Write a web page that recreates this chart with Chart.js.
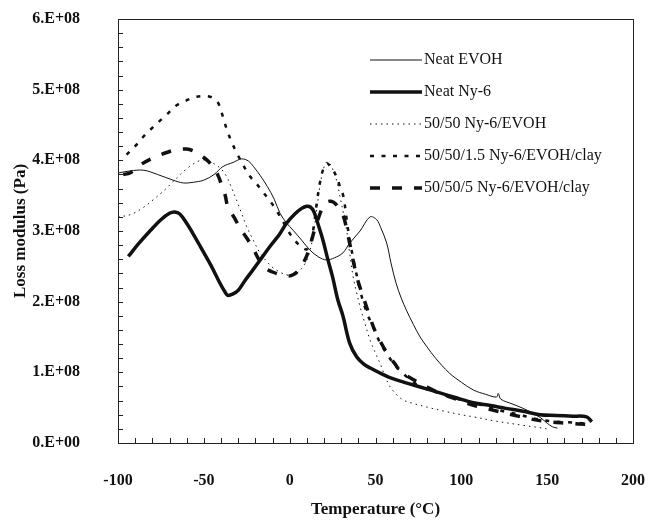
<!DOCTYPE html>
<html lang="en">
<head>
    <meta charset="UTF-8">
    <title>Loss modulus vs temperature</title>
    <style>
        html, body {
            margin: 0;
            padding: 0;
            background: #ffffff;
        }

        .chart-box {
            width: 650px;
            height: 521px;
            position: relative;
        }
    </style>
    <script src="https://cdn.jsdelivr.net/npm/chart.js@4/dist/chart.umd.min.js"></script>
</head>
<body>
    <div class="chart-box">
        <canvas id="lossChart"></canvas>
    </div>

    <script>
        // axis ticks
        const xTickValues = [-100, -50, 0, 50, 100, 150, 200];
        const yTickValues = [0, 1, 2, 3, 4, 5, 6];
        const yTickLabels = ['0.E+00', '1.E+08', '2.E+08', '3.E+08', '4.E+08', '5.E+08', '6.E+08'];
        const xMinorStep = 10;
        const yMinorStep = 0.2;

        // Neat EVOH (loss modulus in 1e8 Pa)
        const evohT = [-100, -93, -85, -77, -68, -62, -56, -50, -44, -39, -33, -28, -24, -21, -17, -13, -9, -5.6, -2, 2, 7, 11.8, 17, 21.5, 26, 31, 35, 41, 46.8, 50.7, 53, 56.5, 59, 62, 65, 68, 72, 76, 80, 85, 93, 100, 107, 114, 120.5, 121.5, 123, 130, 136, 141, 146, 150, 153, 156];
        const evohV = [3.82, 3.85, 3.86, 3.80, 3.72, 3.68, 3.69, 3.72, 3.80, 3.91, 3.97, 4.02, 3.99, 3.91, 3.78, 3.63, 3.45, 3.25, 3.12, 3.01, 2.87, 2.73, 2.63, 2.59, 2.62, 2.69, 2.83, 3.00, 3.20, 3.16, 3.05, 2.83, 2.55, 2.26, 2.05, 1.88, 1.68, 1.50, 1.36, 1.20, 0.99, 0.86, 0.75, 0.69, 0.65, 0.70, 0.62, 0.55, 0.49, 0.43, 0.36, 0.28, 0.23, 0.21];

        // Neat Ny-6
        const ny6T = [-94, -88, -81, -75, -70, -67, -64, -60, -56, -52, -46, -40.6, -38, -36, -33, -30, -26, -21.4, -16, -11.5, -6, -1.8, 3, 7, 10, 12, 14, 16.5, 19.4, 22, 25, 28, 31, 35, 39, 43, 47, 52.6, 58, 64, 75, 87.5, 97, 107, 117, 126, 136, 145.8, 155, 165, 173, 176];
        const ny6V = [2.64, 2.82, 3.01, 3.16, 3.25, 3.27, 3.24, 3.11, 2.95, 2.78, 2.52, 2.26, 2.15, 2.09, 2.11, 2.16, 2.30, 2.45, 2.63, 2.78, 2.95, 3.11, 3.24, 3.32, 3.35, 3.34, 3.28, 3.10, 2.87, 2.62, 2.35, 2.03, 1.80, 1.41, 1.22, 1.12, 1.06, 0.99, 0.93, 0.88, 0.80, 0.71, 0.64, 0.57, 0.53, 0.49, 0.45, 0.40, 0.39, 0.38, 0.37, 0.30];

        // 50/50 Ny-6/EVOH
        const blendT = [-100, -93, -86, -79.6, -72, -65.8, -59, -52, -48, -44.6, -40, -36.7, -34, -31, -28, -25, -21, -17.3, -13, -9.7, -5, -1.8, 1, 4, 7, 10, 12, 13.6, 15.5, 17.6, 19.5, 21.6, 23.5, 25.3, 27.5, 29.3, 31.3, 33.2, 35, 37, 39, 41, 44, 46.8, 50, 52.6, 55.5, 58.4, 62, 66, 72, 79.7, 90, 100, 107, 120, 136, 145, 149.6];
        const blendV = [3.20, 3.23, 3.32, 3.44, 3.60, 3.75, 3.90, 4.00, 4.00, 3.96, 3.88, 3.77, 3.62, 3.44, 3.25, 3.06, 2.86, 2.69, 2.56, 2.48, 2.41, 2.38, 2.37, 2.40, 2.47, 2.59, 2.74, 2.92, 3.25, 3.63, 3.86, 3.98, 3.95, 3.86, 3.70, 3.49, 3.25, 3.01, 2.68, 2.35, 2.13, 1.93, 1.68, 1.46, 1.27, 1.13, 0.95, 0.80, 0.69, 0.61, 0.56, 0.51, 0.45, 0.40, 0.37, 0.31, 0.25, 0.22, 0.20];

        // 50/50/1.5 Ny-6/EVOH/clay
        const clay15T = [-95, -90, -85.4, -79.6, -72, -65.8, -60, -56, -51, -46.4, -43, -41, -38.8, -36.5, -34, -30.7, -27, -23, -19, -15.5, -11, -7.4, -3.5, 0.2, 4, 7.7, 10, 12, 14, 15.8, 17.6, 19.5, 21.6, 23.5, 25.5, 27.3, 29, 31.3, 33, 35, 38, 41, 45, 48.5, 52.6, 56.5, 60, 64, 70, 76, 87.5, 97, 107, 117, 126, 134, 141.7, 148, 155.5, 165, 175];
        const clay15V = [4.08, 4.20, 4.33, 4.47, 4.64, 4.78, 4.85, 4.89, 4.91, 4.90, 4.85, 4.78, 4.61, 4.43, 4.27, 4.10, 3.93, 3.77, 3.66, 3.55, 3.41, 3.28, 3.12, 2.96, 2.84, 2.76, 2.74, 2.82, 3.06, 3.40, 3.68, 3.87, 3.96, 3.92, 3.85, 3.77, 3.65, 3.49, 3.20, 2.87, 2.50, 2.16, 1.84, 1.65, 1.42, 1.27, 1.14, 1.03, 0.90, 0.80, 0.70, 0.63, 0.57, 0.50, 0.44, 0.40, 0.35, 0.32, 0.30, 0.29, 0.27];

        // 50/50/5 Ny-6/EVOH/clay
        const clay5T = [-97, -93, -88, -80, -73, -66, -60, -55, -50, -46.4, -42, -39.6, -37.5, -36, -32, -29, -25, -21.4, -18, -14.4, -10, -5, -2, 2, 6, 9.6, 12, 14.4, 17, 19.5, 21.7, 24, 26.5, 29, 31.4, 33, 35, 38.6, 41, 43.5, 46.5, 49.5, 53, 56.8, 61, 65, 72.5, 80, 87, 97, 106, 121, 133, 147.5, 162, 175];
        const clay5V = [3.80, 3.82, 3.92, 4.03, 4.10, 4.15, 4.16, 4.12, 4.04, 3.96, 3.80, 3.65, 3.50, 3.34, 3.18, 3.04, 2.90, 2.76, 2.60, 2.48, 2.42, 2.38, 2.36, 2.38, 2.47, 2.63, 2.80, 3.01, 3.20, 3.35, 3.41, 3.42, 3.39, 3.30, 3.20, 3.05, 2.82, 2.40, 2.20, 2.02, 1.80, 1.60, 1.43, 1.27, 1.13, 1.01, 0.89, 0.79, 0.71, 0.62, 0.54, 0.45, 0.38, 0.31, 0.28, 0.26];

        const toPoints = (ts, vs) => ts.map((t, i) => ({ x: t, y: vs[i] }));

        const ink = '#111111';
        const serif = '"Liberation Serif", "Times New Roman", serif';

        const makeSet = (label, ts, vs, width, dash) => ({
            label: label,
            data: toPoints(ts, vs),
            borderColor: ink,
            borderWidth: width,
            borderDash: dash,
            pointRadius: 0,
            fill: false,
            tension: 0.35,
        });

        // frame box and small inward ticks
        const frameTicks = {
            id: 'frameTicks',
            afterDraw(chart) {
                const { ctx, chartArea: a, scales } = chart;
                const x = scales.x;
                const y = scales.y;
                ctx.save();
                ctx.strokeStyle = '#222222';
                ctx.lineWidth = 1;
                ctx.strokeRect(Math.round(a.left) + 0.5, Math.round(a.top) + 0.5,
                    Math.round(a.right - a.left), Math.round(a.bottom - a.top));
                ctx.beginPath();
                for (let v = y.min; v <= y.max + 1e-9; v += yMinorStep) {
                    const py = Math.round(y.getPixelForValue(v)) + 0.5;
                    ctx.moveTo(a.left, py);
                    ctx.lineTo(a.left + 5, py);
                }
                for (let t = x.min; t <= x.max + 1e-9; t += xMinorStep) {
                    const px = Math.round(x.getPixelForValue(t)) + 0.5;
                    ctx.moveTo(px, a.bottom);
                    ctx.lineTo(px, a.bottom - 5);
                }
                ctx.stroke();
                ctx.restore();
            }
        };

        // legend drawn inside the plot, upper right
        const insideLegend = {
            id: 'insideLegend',
            afterDraw(chart) {
                const { ctx, chartArea: a } = chart;
                const left = a.left + 252;
                const sample = 52;
                const top = a.top + 41;
                const gap = 32;
                ctx.save();
                ctx.font = '16px ' + serif;
                ctx.textBaseline = 'middle';
                ctx.fillStyle = ink;
                chart.data.datasets.forEach((ds, i) => {
                    const yy = top + i * gap;
                    ctx.beginPath();
                    ctx.strokeStyle = ds.borderColor;
                    ctx.lineWidth = ds.borderWidth;
                    ctx.setLineDash(ds.borderDash || []);
                    ctx.moveTo(left, yy);
                    ctx.lineTo(left + sample, yy);
                    ctx.stroke();
                    ctx.setLineDash([]);
                    ctx.fillText(ds.label, left + sample + 2, yy);
                });
                ctx.restore();
            }
        };

        const ctx = document.getElementById('lossChart').getContext('2d');
        const lossChart = new Chart(ctx, {
            type: 'line',
            data: {
                datasets: [
                    makeSet('Neat EVOH', evohT, evohV, 1, []),
                    makeSet('Neat Ny-6', ny6T, ny6V, 3.5, []),
                    makeSet('50/50 Ny-6/EVOH', blendT, blendV, 1, [1.5, 4]),
                    makeSet('50/50/1.5 Ny-6/EVOH/clay', clay15T, clay15V, 2.5, [4, 7.5]),
                    makeSet('50/50/5 Ny-6/EVOH/clay', clay5T, clay5V, 3.5, [10, 12]),
                ],
            },
            options: {
                responsive: true,
                maintainAspectRatio: false,
                animation: false,
                layout: {
                    padding: { top: 19, right: 17, left: 0, bottom: 0 },
                },
                plugins: {
                    legend: { display: false },
                    tooltip: { enabled: false },
                },
                scales: {
                    x: {
                        type: 'linear',
                        min: -100,
                        max: 200,
                        afterBuildTicks: (scale) => {
                            scale.ticks = xTickValues.map(v => ({ value: v }));
                        },
                        afterFit: (scale) => {
                            scale.height = 78;
                            scale.paddingLeft = 0;
                            scale.paddingRight = 0;
                        },
                        grid: { display: false, drawTicks: false },
                        border: { display: false },
                        ticks: {
                            padding: 28,
                            maxRotation: 0,
                            color: ink,
                            font: { family: serif, size: 16, weight: 'bold' },
                            callback: (v) => String(v),
                        },
                        title: {
                            display: true,
                            text: 'Temperature (°C)',
                            color: ink,
                            font: { family: serif, size: 17, weight: 'bold' },
                            padding: { top: 0, bottom: 1 },
                        },
                    },
                    y: {
                        min: 0,
                        max: 6,
                        afterBuildTicks: (scale) => {
                            scale.ticks = yTickValues.map(v => ({ value: v }));
                        },
                        afterFit: (scale) => {
                            scale.width = 118;
                            scale.paddingTop = 0;
                            scale.paddingBottom = 0;
                        },
                        grid: { display: false, drawTicks: false },
                        border: { display: false },
                        ticks: {
                            padding: 38,
                            color: ink,
                            font: { family: serif, size: 16, weight: 'bold' },
                            callback: (v, i) => yTickLabels[i],
                        },
                        title: {
                            display: true,
                            text: 'Loss modulus (Pa)',
                            color: ink,
                            font: { family: serif, size: 17, weight: 'bold' },
                            padding: { top: 10, bottom: 0 },
                        },
                    },
                },
            },
            plugins: [frameTicks, insideLegend],
        });
    </script>
</body>
</html>
